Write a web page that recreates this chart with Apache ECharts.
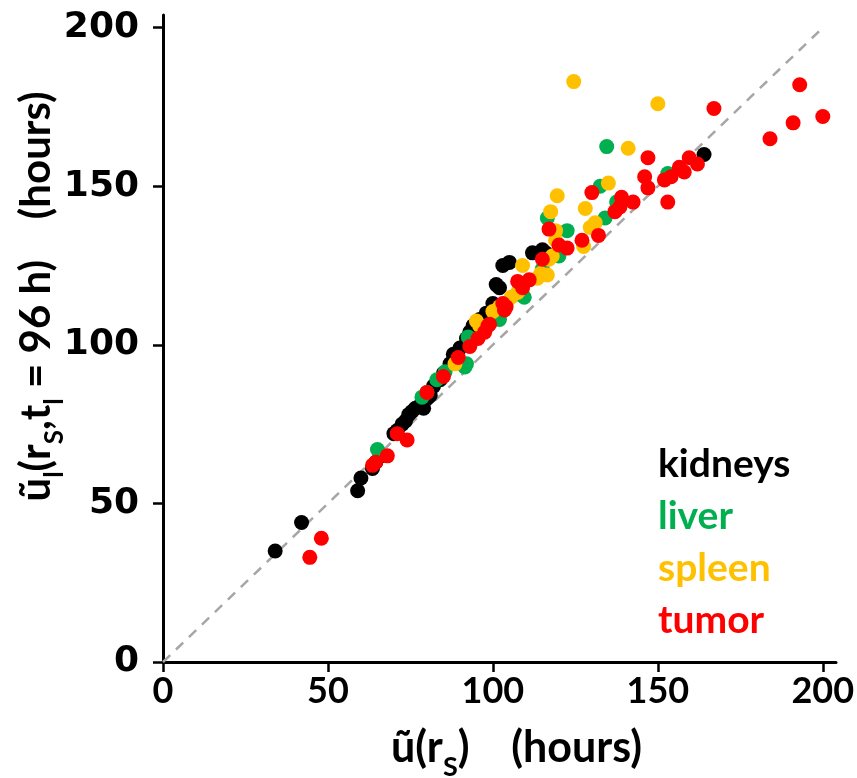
<!DOCTYPE html>
<html>
<head>
<meta charset="utf-8">
<script src="https://cdn.jsdelivr.net/npm/echarts@6/dist/echarts.min.js"></script>
<style>
  html, body { margin: 0; padding: 0; background: #fff; }
  #chartArea { width: 857px; height: 778px; }
</style>
</head>
<body>
<div id="chartArea"></div>
<script>
// [ũ(rS), ũl(rS, tl = 96 h)] in hours
var kidneys = [
    [34, 35], [42, 44], [59, 54], [60, 58], [63.5, 61], [64.5, 63], [66, 65],
    [70, 72], [71, 73], [72.5, 75], [73.5, 76], [74.5, 78], [75.5, 79], [76.5, 80],
    [78, 81], [79, 80], [80, 83], [81, 84], [82, 87], [84, 89], [85, 91], [87, 94],
    [88, 97], [90, 99], [92, 102], [93, 104], [94, 106], [96, 108], [98, 110],
    [100, 113], [101, 119], [102, 118], [103, 125], [105, 126], [112, 129],
    [115, 130], [116, 129], [164, 160]
];
var liver = [
    [65, 67], [78.5, 83.5], [80, 85], [83, 89], [85.5, 91.5], [91.5, 93], [92, 94],
    [92.5, 102.5], [102, 108], [107.5, 116], [109.5, 115], [115, 124], [116.5, 140],
    [120, 128], [122.5, 136], [132.5, 150], [134, 140], [134.5, 162.5], [137.5, 145],
    [153, 154]
];
var spleen = [
    [88.5, 94], [95, 107.5], [96, 106], [100, 110.5], [102, 112], [104, 113],
    [105.5, 115], [107.5, 116.5], [109, 125], [113.5, 121], [114.5, 122.5], [116.5, 122],
    [117, 127], [118, 128], [117.5, 142], [119, 136], [119, 133], [119.5, 147],
    [124.5, 183], [127.5, 131], [128, 143], [129.5, 137], [131, 138.5], [135, 151],
    [141, 162], [150, 176]
];
var tumor = [
    [44.5, 33], [48, 39], [63.5, 62], [64.5, 63], [68, 65], [71, 72], [74, 70], [80, 85],
    [85, 90], [89.5, 96], [93, 99.5], [95.5, 102], [97.5, 104], [98.5, 106], [99, 106.5],
    [103, 113], [104, 112], [103.5, 111], [107.5, 120], [109, 118], [111, 120.5],
    [115, 127], [117, 136.5], [120, 131.5], [122.5, 130.5], [127, 133], [130, 148],
    [132, 134.5], [137, 142], [138.5, 143.5], [139, 146.5], [142.5, 145], [146, 153],
    [147, 159], [147, 149.5], [152, 152], [153, 145], [154, 153], [156.5, 156],
    [158, 154.5], [159.5, 159], [162, 157], [167, 174.5], [184, 165], [191, 170],
    [193, 182], [200, 172]
];
var identityLine = [[0, 0], [200, 200]];
var tickValues = [0, 50, 100, 150, 200];

var seriesNames = ['kidneys', 'liver', 'spleen', 'tumor'];
var seriesColors = ['#000000', '#00b050', '#ffc000', '#ff0000'];
var seriesData = [kidneys, liver, spleen, tumor];

var myChart = echarts.init(document.getElementById('chartArea'));

function nameStyles(size) {
    return {
        a: { fontSize: size, fontWeight: 'bold', fontFamily: 'Lato', lineHeight: size + 4 },
        s: { fontSize: Math.round(size * 0.62), fontWeight: 'bold', fontFamily: 'Lato', verticalAlign: 'bottom', lineHeight: size + 4, padding: [0, 0, -9, 0] }
    };
}

var series = [{
    type: 'line',
    data: identityLine,
    symbol: 'none',
    silent: true,
    z: 1,
    lineStyle: { color: '#a6a6a6', width: 2.5, type: [10, 8] }
}];
seriesNames.forEach(function(name, i) {
    series.push({
        name: name,
        type: 'scatter',
        data: seriesData[i],
        symbolSize: 15,
        z: 2 + i,
        itemStyle: { color: seriesColors[i], opacity: 1 }
    });
});

myChart.setOption({
    animation: false,
    backgroundColor: '#ffffff',
    grid: { left: 163, top: 15, width: 673, height: 647, outerBoundsMode: 'none', containLabel: false },
    legend: {
        orient: 'vertical',
        left: 648,
        top: 439,
        icon: 'none',
        itemWidth: 0,
        itemHeight: 14,
        itemGap: 11,
        selectedMode: false,
        textStyle: { fontSize: 39, fontWeight: 'bold', fontFamily: 'Lato', lineHeight: 41 },
        data: seriesNames.map(function(name, i) {
            return { name: name, textStyle: { color: seriesColors[i] } };
        })
    },
    xAxis: {
        type: 'value',
        min: 0,
        max: 204,
        interval: 50,
        splitLine: { show: false },
        axisLine: { show: true, lineStyle: { color: '#000', width: 3 } },
        axisTick: { show: true, length: 10, lineStyle: { color: '#000', width: 2.5 }, customValues: tickValues },
        axisLabel: { margin: 11, fontSize: 36, fontWeight: 'bold', fontFamily: 'Lato', color: '#000', customValues: tickValues },
        name: '{a|ũ(r}{s|S}{a|)    (hours)}',
        nameLocation: 'middle',
        nameGap: 63,
        nameMoveOverlap: false,
        nameTextStyle: {
            padding: [0, 0, 0, 34],
            rich: nameStyles(43)
        }
    },
    yAxis: {
        type: 'value',
        min: 0,
        max: 204,
        interval: 50,
        splitLine: { show: false },
        axisLine: { show: true, lineStyle: { color: '#000', width: 3 } },
        axisTick: { show: true, length: 10, lineStyle: { color: '#000', width: 2.5 }, customValues: tickValues },
        axisLabel: { margin: 24, fontSize: 36, fontWeight: 'bold', fontFamily: 'DejaVu Sans', color: '#000', customValues: tickValues },
        name: '{a|ũ}{s|l}{a|(r}{s|S}{a|,t}{s|l}{a| = 96 h)    (hours)}',
        nameLocation: 'middle',
        nameRotate: 90,
        nameGap: 104,
        nameMoveOverlap: false,
        nameTextStyle: {
            padding: [0, 0, 0, 84],
            rich: nameStyles(42)
        }
    },
    series: series
});
</script>
</body>
</html>
